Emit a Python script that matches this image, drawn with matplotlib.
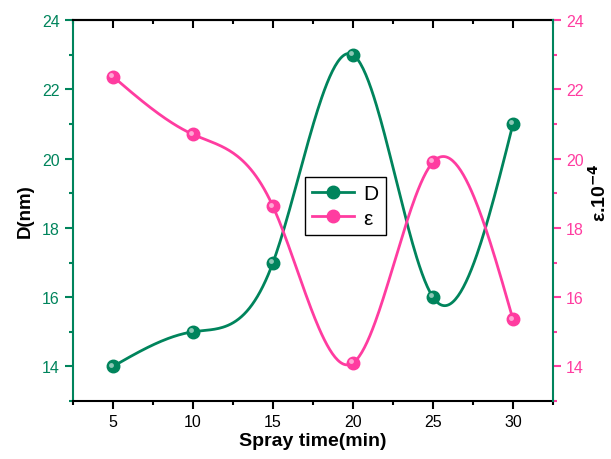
import matplotlib
matplotlib.use("Agg")
import matplotlib.pyplot as plt
import matplotlib.transforms as mtransforms
from matplotlib.ticker import MultipleLocator
import numpy as np

plt.rcParams['font.family'] = ['Liberation Sans', 'DejaVu Sans']
plt.rcParams['mathtext.default'] = 'bf'

# data
spray_time = [5, 10, 15, 20, 25, 30]
D_nm = [14.0, 15.0, 17.0, 23.0, 16.0, 21.0]
eps = [22.37, 20.70, 18.62, 14.10, 19.90, 15.36]

green = '#00845c'
pink = '#ff3ca0'


def spline(x, y, n=300):
    # natural cubic spline through the points (like Origin's spline connect)
    x = np.asarray(x, float)
    y = np.asarray(y, float)
    k = len(x)
    h = np.diff(x)
    A = np.zeros((k, k))
    b = np.zeros(k)
    A[0, 0] = A[-1, -1] = 1
    for i in range(1, k - 1):
        A[i, i - 1] = h[i - 1]
        A[i, i] = 2 * (h[i - 1] + h[i])
        A[i, i + 1] = h[i]
        b[i] = 3 * ((y[i + 1] - y[i]) / h[i] - (y[i] - y[i - 1]) / h[i - 1])
    c = np.linalg.solve(A, b)
    xs = np.linspace(x[0], x[-1], n)
    idx = np.clip(np.searchsorted(x, xs) - 1, 0, k - 2)
    dx = xs - x[idx]
    bb = (y[idx + 1] - y[idx]) / h[idx] - h[idx] * (2 * c[idx] + c[idx + 1]) / 3
    dd = (c[idx + 1] - c[idx]) / (3 * h[idx])
    ys = y[idx] + bb * dx + c[idx] * dx ** 2 + dd * dx ** 3
    return xs, ys


fig = plt.figure(figsize=(6.11, 4.60), dpi=100)
ax = fig.add_axes([0.1195, 0.126, 0.7855, 0.828])
ax2 = ax.twinx()


def ball(a, x, y, col):
    a.plot(x, y, 'o', ms=9, mfc=col, mec=col, zorder=5)
    tr = mtransforms.offset_copy(a.transData, fig=fig, x=-1.2, y=1.2, units='points')
    a.plot(x, y, 'o', ms=3.5, mfc='white', mec='none', alpha=0.55, transform=tr, zorder=6)


xs, ys = spline(spray_time, D_nm)
ax.plot(xs, ys, color=green, lw=2)
ball(ax, spray_time, D_nm, green)

xs, ys = spline(spray_time, eps)
ax2.plot(xs, ys, color=pink, lw=2)
ball(ax2, spray_time, eps, pink)

for a in (ax, ax2):
    a.set_ylim(13, 24)
    a.yaxis.set_major_locator(MultipleLocator(2))
    a.yaxis.set_minor_locator(MultipleLocator(1))
    a.yaxis.set_major_formatter(plt.FuncFormatter(lambda v, p: '%d' % v if v >= 14 else ''))
ax.set_xlim(2.5, 32.5)
ax.xaxis.set_major_locator(MultipleLocator(5))
ax.xaxis.set_minor_locator(MultipleLocator(2.5))
ax.xaxis.set_major_formatter(plt.FuncFormatter(lambda v, p: '%d' % v if 5 <= v <= 30 else ''))

ax.tick_params(axis='x', which='major', direction='out', length=6, width=1.5, labelsize=11.5)
ax.tick_params(axis='x', which='minor', direction='out', length=3, width=1.5)
ax.tick_params(axis='y', which='major', direction='out', length=6, width=1.5,
               colors=green, labelsize=11.5)
ax.tick_params(axis='y', which='minor', direction='out', length=3, width=1.5, colors=green)
ax2.tick_params(axis='y', which='major', direction='out', length=6, width=1.5,
                colors=pink, labelsize=11.5)
ax2.tick_params(axis='y', which='minor', direction='out', length=3, width=1.5, colors=pink)

top = ax.secondary_xaxis('top')
top.xaxis.set_major_locator(MultipleLocator(5))
top.xaxis.set_minor_locator(MultipleLocator(2.5))
top.tick_params(which='major', direction='in', length=6, width=1.5, labeltop=False)
top.tick_params(which='minor', direction='in', length=3, width=1.5)
top.spines['top'].set_linewidth(1.5)

for s in ('top', 'bottom'):
    ax.spines[s].set_linewidth(1.5)
    ax2.spines[s].set_visible(False)
ax.spines['left'].set_color(green)
ax.spines['left'].set_linewidth(1.5)
ax.spines['right'].set_visible(False)
ax2.spines['left'].set_visible(False)
ax2.spines['right'].set_color(green)
ax2.spines['right'].set_linewidth(1.5)

ax.set_xlabel('Spray time(min)', fontsize=14, fontweight='bold', labelpad=2)
ax.set_ylabel('D(nm)', fontsize=13.5, fontweight='bold', labelpad=6)
ax2.set_ylabel('ε.10$^{-4}$', fontsize=14, fontweight='bold', labelpad=4)
ax2.yaxis.set_label_coords(1.072, 0.55)

hD, = ax.plot([], [], '-o', color=green, lw=2, ms=9)
hE, = ax.plot([], [], '-o', color=pink, lw=2, ms=9)
leg = ax2.legend([hD, hE], ['D', 'ε'], loc='upper left', bbox_to_anchor=(0.483, 0.588),
                 borderaxespad=0, fontsize=15, fancybox=False, edgecolor='black',
                 framealpha=1, handlelength=2.0, borderpad=0.35, labelspacing=0.25,
                 handletextpad=0.45)
leg.get_frame().set_linewidth(1)

fig.savefig('out.png', dpi=100)
